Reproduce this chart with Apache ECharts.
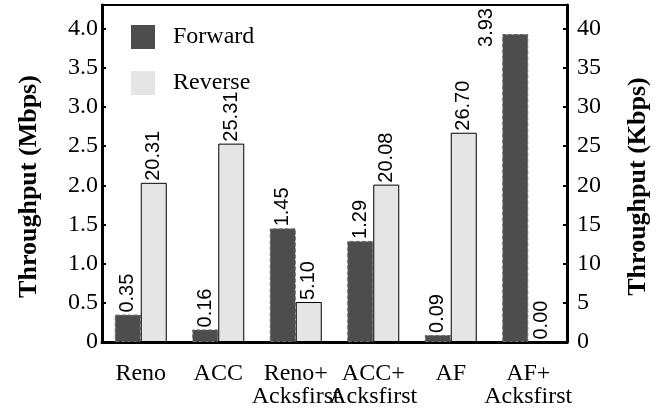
<!DOCTYPE html>
<html>
<head>
<meta charset="utf-8">
<script src="https://cdn.jsdelivr.net/npm/echarts@6/dist/echarts.min.js"></script>
<style>html,body{margin:0;padding:0;background:#fff;}#c{width:659px;height:413px;}</style>
</head>
<body>
<div id="c"></div>
<script>
var categories = ['Reno', 'ACC', 'Reno+\nAcksfirst', 'ACC+\nAcksfirst', 'AF', 'AF+\nAcksfirst'];
var forward = [0.35, 0.16, 1.45, 1.29, 0.09, 3.93];   // Mbps (left axis)
var reverse = [20.31, 25.31, 5.10, 20.08, 26.70, 0.00]; // Kbps (right axis)

var serif = '"Liberation Serif", "Times New Roman", serif';
var sans = '"Liberation Sans", Arial, sans-serif';

var chart = echarts.init(document.getElementById('c'), null, {renderer: 'canvas'});
var barLabel = {
  show: true, position: 'top', rotate: 90, align: 'left', verticalAlign: 'middle',
  distance: 2, fontFamily: sans, fontSize: 20, color: '#000',
  formatter: function (p) { return p.value.toFixed(2); }
};
// the tallest forward bar's label sits beside the bar (as in the reference)
var forwardData = forward.map(function (v, i) {
  return i === forward.length - 1 ? {value: v, label: {offset: [-15, -29]}} : v;
});
chart.setOption({
  animation: false,
  grid: {left: 102, right: 89, top: 5, bottom: 71, show: true, borderColor: '#000', borderWidth: 2, containLabel: false},
  legend: {
    orient: 'vertical', left: 126, top: 20, itemWidth: 24, itemHeight: 24, itemGap: 22,
    icon: 'rect',
    textStyle: {fontFamily: serif, fontSize: 24, color: '#000', padding: [0, 0, 0, 13]},
    data: [
      {name: 'Forward', itemStyle: {color: '#4d4d4d', borderWidth: 0}},
      {name: 'Reverse', itemStyle: {color: '#e5e5e5', borderWidth: 0}}
    ]
  },
  xAxis: {
    type: 'category', data: categories,
    axisLine: {lineStyle: {color: '#000', width: 3}},
    axisTick: {show: false},
    axisLabel: {fontFamily: serif, fontSize: 24, color: '#000', lineHeight: 23, margin: 20, interval: 0}
  },
  yAxis: [{
    type: 'value', min: 0, max: 4.3, interval: 0.5, position: 'left',
    name: 'Throughput (Mbps)', nameLocation: 'middle', nameRotate: 90, nameGap: 60,
    nameTextStyle: {fontFamily: serif, fontSize: 26, fontWeight: 'bold', color: '#000', padding: [0, 26, 0, 0]},
    axisLine: {show: true, lineStyle: {color: '#000', width: 3}},
    axisTick: {show: true, inside: true, length: 4, lineStyle: {color: '#000', width: 2}},
    splitLine: {show: false},
    axisLabel: {fontFamily: serif, fontSize: 24, color: '#000', margin: 4, showMaxLabel: false,
      formatter: function (v) { return v === 0 ? '0' : v.toFixed(1); }}
  }, {
    type: 'value', min: 0, max: 43, interval: 5, position: 'right',
    name: 'Throughput (Kbps)', nameLocation: 'middle', nameRotate: 90, nameGap: 58,
    nameTextStyle: {fontFamily: serif, fontSize: 26, fontWeight: 'bold', color: '#000', padding: [0, 26, 0, 0]},
    axisLine: {show: true, lineStyle: {color: '#000', width: 3}},
    axisTick: {show: true, inside: true, length: 4, lineStyle: {color: '#000', width: 2}},
    splitLine: {show: false},
    axisLabel: {fontFamily: serif, fontSize: 24, color: '#000', margin: 10, showMaxLabel: false}
  }],
  series: [{
    name: 'Forward', type: 'bar', yAxisIndex: 0, data: forwardData,
    barWidth: 26, barGap: '0%',
    itemStyle: {color: '#4d4d4d', borderColor: '#6a6a6a', borderWidth: 1, borderType: 'dashed'},
    label: barLabel
  }, {
    name: 'Reverse', type: 'bar', yAxisIndex: 1, data: reverse,
    barWidth: 26, barGap: '0%',
    itemStyle: {color: '#e5e5e5', borderColor: '#000', borderWidth: 1},
    label: barLabel
  }]
});
</script>
</body>
</html>
